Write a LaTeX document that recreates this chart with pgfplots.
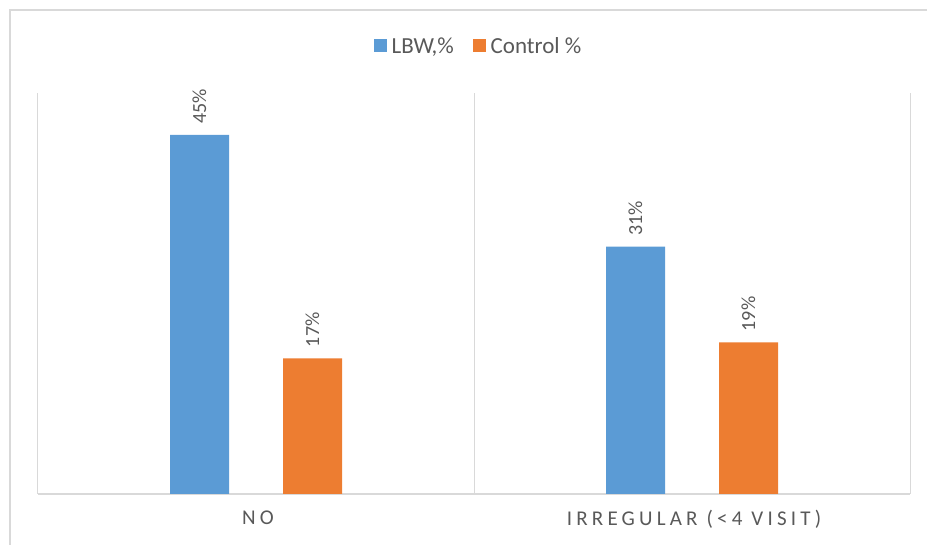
\documentclass[border=0pt]{standalone}
\usepackage{pgfplots}
\pgfplotsset{compat=1.18}
\usepackage{fontspec}
\setmainfont{Carlito}
\definecolor{barblue}{HTML}{5B9BD5}
\definecolor{barorange}{HTML}{ED7D31}
\definecolor{gridgray}{HTML}{D9D9D9}
\definecolor{textgray}{HTML}{595959}
\begin{document}
\begin{tikzpicture}
\path[use as bounding box] (0pt,0pt) rectangle (927pt,545pt);
\draw[gridgray, line width=1.5pt] (10pt,0pt) -- (10pt,535pt) -- (927pt,535pt);
\begin{axis}[
  at={(38pt,51pt)}, anchor=south west, scale only axis,
  width=872pt, height=401pt,
  ybar=54pt, bar width=59pt,
  xmin=-0.5, xmax=1.5, ymin=0, ymax=50.25,
  axis y line=none, axis x line*=bottom,
  x axis line style={gridgray, line width=1.5pt, -},
  xtick={0,1}, xticklabels={NO, IRREGULAR (<4 VISIT)},
  major tick length=0pt,
  minor xtick={-0.5,0.5,1.5}, minor tick length=0pt,
  xminorgrids, minor grid style={gridgray, line width=1pt},
  xticklabel style={font=\fontsize{21}{24}\selectfont\addfontfeatures{LetterSpace=20}, text=textgray, yshift=-13pt, xshift=2pt},
  /pgf/number format/assume math mode=true,
  nodes near coords={\pgfmathprintnumber{\pgfplotspointmeta}\%},
  every node near coord/.append style={rotate=90, anchor=west, font=\fontsize{20}{23}\selectfont, text=textgray, inner xsep=11pt},
  legend image code/.code={\fill[#1] (0pt,-6.5pt) rectangle (13pt,6.5pt);},
  legend style={at={(0.5,1)}, anchor=center, yshift=47pt, xshift=6pt, draw=none, fill=none,
    legend columns=-1, font=\fontsize{23}{26}\selectfont, text=textgray,
    nodes={inner xsep=5pt},
    /tikz/every even column/.append style={column sep=14pt}},
]
\addplot[fill=barblue, draw=none] coordinates {(0,45) (1,31)};
\addplot[fill=barorange, draw=none] coordinates {(0,17) (1,19)};
\legend{LBW{,}\%, Control \%}
\end{axis}
\end{tikzpicture}
\end{document}
